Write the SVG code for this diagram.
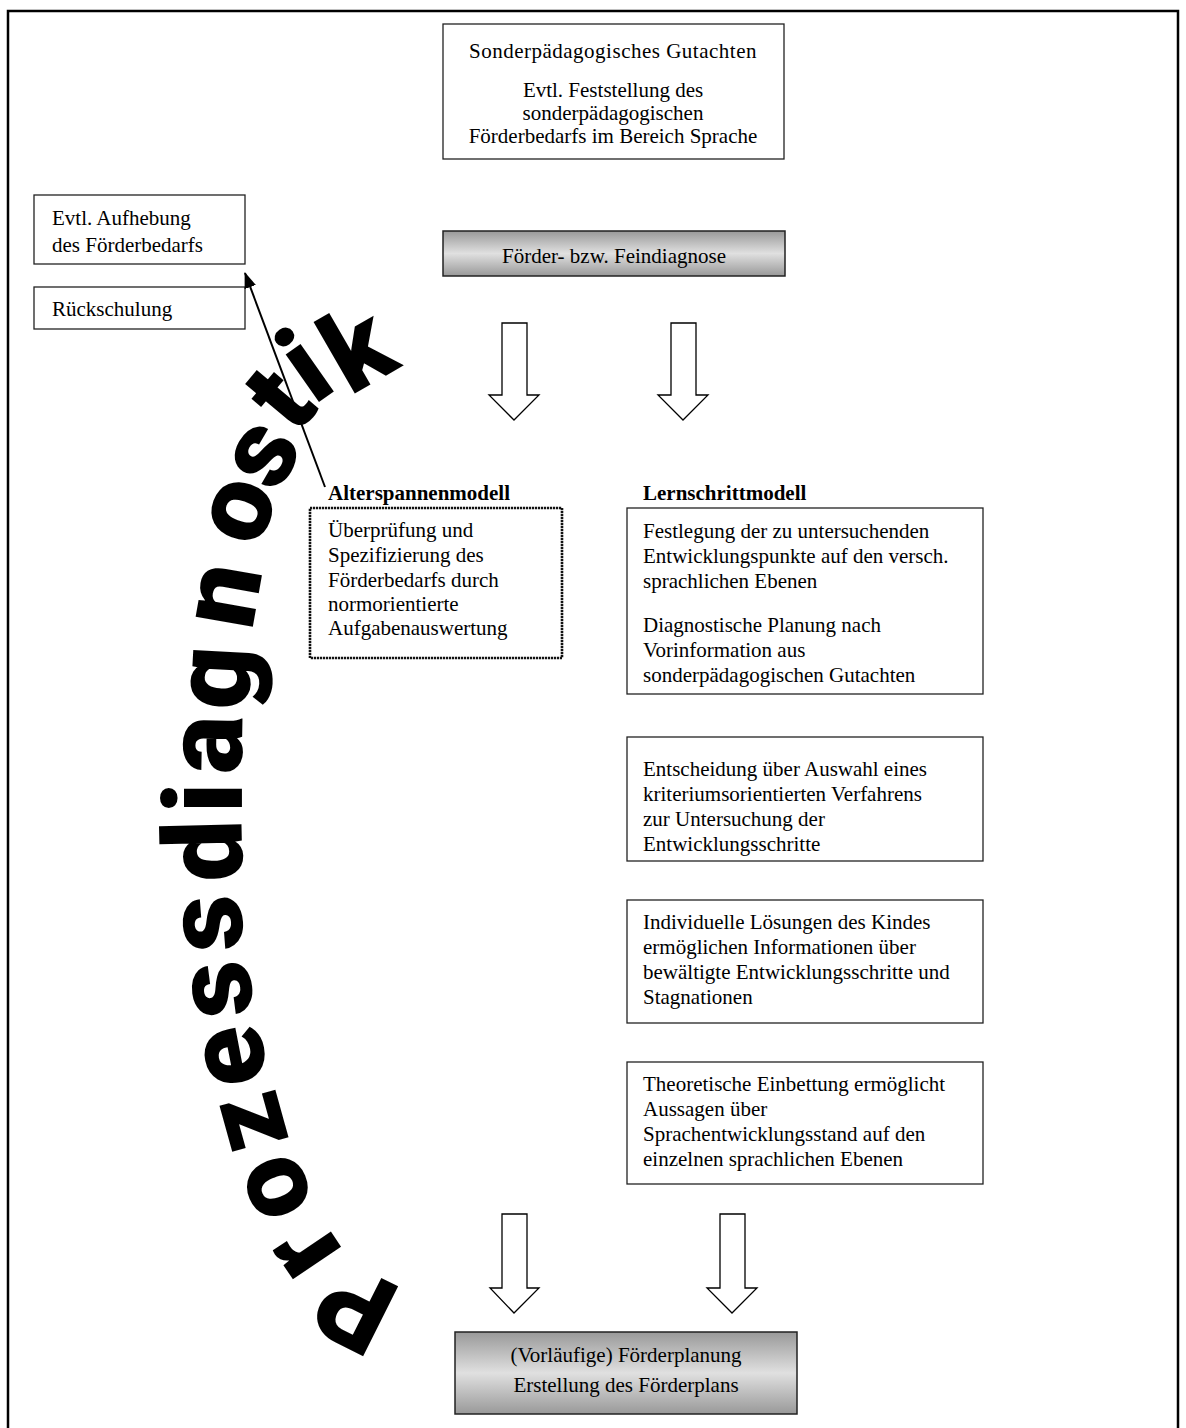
<svg xmlns="http://www.w3.org/2000/svg" width="1186" height="1428" viewBox="0 0 1186 1428">
<style>
.t{font-family:"Liberation Serif","Times New Roman",serif;font-size:21px;fill:#000}
.b{font-weight:bold}
.box{fill:#fff;stroke:#222;stroke-width:1.3}
.gbox{fill:url(#gray);stroke:#222;stroke-width:1.5}
.dbox{fill:#fff;stroke:#111;stroke-width:2.6;stroke-dasharray:2.2 0.8}
.blk{fill:#fff;stroke:#000;stroke-width:1.3;stroke-linejoin:miter}
.big{font-family:Roboto,Lato,Inter,"DejaVu Sans",sans-serif;font-weight:900;font-size:110px;fill:#000}
</style>
<defs>
<linearGradient id="gray" x1="0" y1="0" x2="0" y2="1">
<stop offset="0" stop-color="#999"/>
<stop offset="0.5" stop-color="#e0e0e0"/>
<stop offset="1" stop-color="#999"/>
</linearGradient>
<marker id="ah" markerUnits="userSpaceOnUse" markerWidth="16" markerHeight="12" viewBox="0 0 16 12" refX="15" refY="6" orient="auto">
<path d="M0,0 L16,6 L0,12 z" fill="#000"/>
</marker>
</defs>
<path d="M8,1428 V11 H1178 V1428" fill="none" stroke="#000" stroke-width="2.5"/>

<g id="gutachten">
<rect class="box" x="443" y="24" width="341" height="135"/>
<text class="t" x="613" y="58" text-anchor="middle" letter-spacing="0.5">Sonderpädagogisches Gutachten</text>
<text class="t" x="613" y="97" text-anchor="middle">Evtl. Feststellung des</text>
<text class="t" x="613" y="120" text-anchor="middle">sonderpädagogischen</text>
<text class="t" x="613" y="143" text-anchor="middle">Förderbedarfs im Bereich Sprache</text>
</g>

<g id="aufhebung">
<rect class="box" x="34" y="195" width="211" height="69"/>
<text class="t" x="52" y="225">Evtl. Aufhebung</text>
<text class="t" x="52" y="252">des Förderbedarfs</text>
</g>

<g id="rueckschulung">
<rect class="box" x="34" y="287" width="211" height="42"/>
<text class="t" x="52" y="316">Rückschulung</text>
</g>

<g id="feindiagnose">
<rect class="gbox" x="443" y="231" width="342" height="45"/>
<text class="t" x="614" y="263" text-anchor="middle">Förder- bzw. Feindiagnose</text>
</g>

<g id="alterspannenmodell">
<text class="t b" x="328" y="500">Alterspannenmodell</text>
<rect class="dbox" x="310" y="508" width="252" height="150"/>
<text class="t" x="328" y="537">Überprüfung und</text>
<text class="t" x="328" y="562">Spezifizierung des</text>
<text class="t" x="328" y="587">Förderbedarfs durch</text>
<text class="t" x="328" y="611">normorientierte</text>
<text class="t" x="328" y="635">Aufgabenauswertung</text>
</g>

<g id="lernschrittmodell">
<text class="t b" x="643" y="500">Lernschrittmodell</text>
<rect class="box" x="627" y="508" width="356" height="186"/>
<text class="t" x="643" y="538">Festlegung der zu untersuchenden</text>
<text class="t" x="643" y="563">Entwicklungspunkte auf den versch.</text>
<text class="t" x="643" y="588">sprachlichen Ebenen</text>
<text class="t" x="643" y="632">Diagnostische Planung nach</text>
<text class="t" x="643" y="657">Vorinformation aus</text>
<text class="t" x="643" y="682">sonderpädagogischen Gutachten</text>
</g>

<g id="entscheidung">
<rect class="box" x="627" y="737" width="356" height="124"/>
<text class="t" x="643" y="776">Entscheidung über Auswahl eines</text>
<text class="t" x="643" y="801">kriteriumsorientierten Verfahrens</text>
<text class="t" x="643" y="826">zur Untersuchung der</text>
<text class="t" x="643" y="851">Entwicklungsschritte</text>
</g>

<g id="loesungen">
<rect class="box" x="627" y="900" width="356" height="123"/>
<text class="t" x="643" y="929">Individuelle Lösungen des Kindes</text>
<text class="t" x="643" y="954">ermöglichen Informationen über</text>
<text class="t" x="643" y="979">bewältigte Entwicklungsschritte und</text>
<text class="t" x="643" y="1004">Stagnationen</text>
</g>

<g id="einbettung">
<rect class="box" x="627" y="1062" width="356" height="122"/>
<text class="t" x="643" y="1091">Theoretische Einbettung ermöglicht</text>
<text class="t" x="643" y="1116">Aussagen über</text>
<text class="t" x="643" y="1141">Sprachentwicklungsstand auf den</text>
<text class="t" x="643" y="1166">einzelnen sprachlichen Ebenen</text>
</g>

<g id="foerderplanung">
<rect class="gbox" x="455" y="1332" width="342" height="82"/>
<text class="t" x="626" y="1362" text-anchor="middle">(Vorläufige) Förderplanung</text>
<text class="t" x="626" y="1392" text-anchor="middle">Erstellung des Förderplans</text>
</g>

<g id="prozessdiagnostik">
<text class="big" x="403.4 343.9 316.1 289.6 269.2 254.5 244.1 242.7 242 241.5 248.3 252 258.4 276.4 295.4 314 350.2" y="1289.1 1250.9 1204.5 1140.7 1079.9 1013.6 949.2 881.1 813 774.5 710.9 631.5 550 495 436.8 405.6 396.3" rotate="-153.4 -124 -112.5 -105.5 -101 -97.3 -94.3 -91.3 -90 -89 -87 -80 -70 -60 -50 -35 -30">Prozessdiagnostik</text>
</g>

<g id="connectors">
<line x1="325" y1="487" x2="245" y2="273" stroke="#000" stroke-width="2" marker-end="url(#ah)"/>
<polygon class="blk" points="502,323 527,323 527,395 539,395 514,420 489,395 502,395"/>
<polygon class="blk" points="671,323 696,323 696,395 708,395 683,420 658,395 671,395"/>
<polygon class="blk" points="502,1214 527,1214 527,1288 539,1288 514,1313 490,1288 502,1288"/>
<polygon class="blk" points="720,1214 745,1214 745,1288 757,1288 732,1313 707,1288 720,1288"/>
</g>
</svg>
